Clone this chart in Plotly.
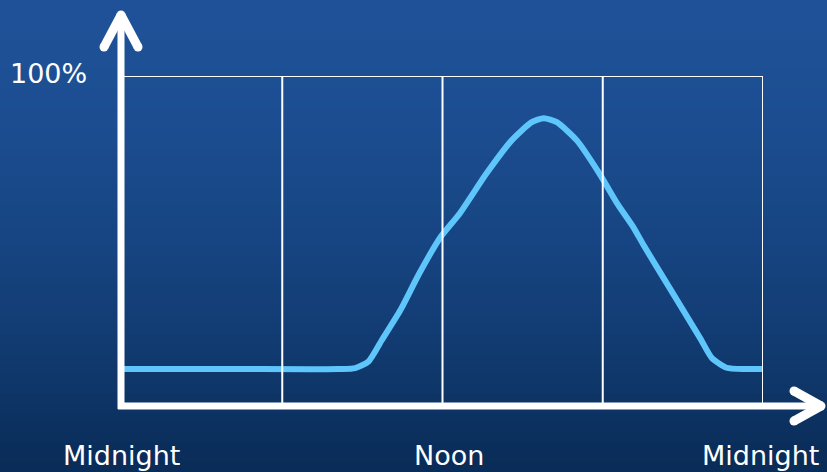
import plotly.graph_objects as go

# ---- data (hours since midnight, percent of maximum) ----
hours = [0, 4.16, 8.14, 8.73, 9.23, 9.73, 10.42, 11.12, 11.91, 12.66, 13.65, 14.59, 15.34, 15.79,
         16.28, 17.03, 17.87, 18.57, 19.16, 19.51, 20.41, 21.65, 22.09, 22.64, 23.34, 24]
usage = [11.2, 11.2, 11.2, 11.5, 13.5, 20.0, 29.0, 40.0, 51.0, 58.5, 70.5, 80.5, 86.0, 87.2,
         86.0, 80.5, 70.5, 61.0, 54.0, 49.0, 37.0, 20.5, 14.5, 11.6, 11.2, 11.2]
grid_hours = [6, 12, 18, 24]
top_value = [100]
label_hours = [0, 12, 24]
label_text = ["Midnight", "Noon", "Midnight"]
y_label = "100%"

W, H = 827, 472
L, R, T, B = 122, 763, 76, 406  # plot area in pixels
label_xshift = [-1, 6, -3]


def px(x):
    return (x - L) / (R - L)


def py(y):
    return (B - y) / (B - T)


fig = go.Figure()
fig.add_trace(go.Scatter(
    x=hours, y=usage, mode="lines",
    line=dict(color="#5ec6fb", width=6, shape="spline", smoothing=0.6),
    hoverinfo="skip", showlegend=False,
))

shapes = []
# background vertical gradient
top_rgb = (0x1e, 0x51, 0x97)
bot_rgb = (0x09, 0x2c, 0x58)
n = 48
for i in range(n):
    t = i / (n - 1)
    t2 = t ** 1.6
    c = tuple(int(round(a + (b - a) * t2)) for a, b in zip(top_rgb, bot_rgb))
    y0 = i * H / n
    y1 = (i + 1) * H / n + 1
    shapes.append(dict(type="rect", xref="paper", yref="paper", layer="below",
                       x0=px(-2), x1=px(W + 2), y0=py(y1), y1=py(y0),
                       line=dict(width=0), fillcolor="rgb(%d,%d,%d)" % c))

# grid box lines
for g in grid_hours:
    shapes.append(dict(type="line", xref="x", yref="y", x0=g, x1=g, y0=0, y1=top_value[0],
                       line=dict(color="white", width=2)))
shapes.append(dict(type="line", xref="x", yref="y", x0=0, x1=grid_hours[-1],
                   y0=top_value[0], y1=top_value[0], line=dict(color="white", width=2)))

# axes with chevron arrowheads
shapes.append(dict(type="line", xref="paper", yref="paper", x0=px(121), x1=px(121),
                   y0=py(409), y1=py(16), line=dict(color="white", width=7)))
shapes.append(dict(type="line", xref="paper", yref="paper", x0=px(118), x1=px(818),
                   y0=py(406), y1=py(406), line=dict(color="white", width=7)))


def chevron(pts, w=9):
    out = []
    for (xa, ya), (xb, yb) in zip(pts[:-1], pts[1:]):
        out.append(dict(type="line", xref="paper", yref="paper", x0=px(xa), y0=py(ya),
                        x1=px(xb), y1=py(yb), line=dict(color="white", width=w)))
    r = w / 2
    for (xa, ya) in pts:
        out.append(dict(type="circle", xref="paper", yref="paper", x0=px(xa - r), x1=px(xa + r),
                        y0=py(ya + r), y1=py(ya - r), fillcolor="white", line=dict(width=0)))
    return out


shapes += chevron([(104, 47), (121, 15), (138, 47)])
shapes += chevron([(794, 391), (821, 406), (794, 421)])

annotations = []
for h, t, s in zip(label_hours, label_text, label_xshift):
    annotations.append(dict(x=h, y=py(455), xref="x", yref="paper", text=t, showarrow=False,
                            xanchor="center", yanchor="middle", xshift=s,
                            font=dict(family="DejaVu Sans", size=27, color="white")))
annotations.append(dict(x=px(48), y=py(73), xref="paper", yref="paper", text=y_label,
                        showarrow=False, xanchor="center", yanchor="middle",
                        font=dict(family="DejaVu Sans", size=27, color="white")))

fig.update_layout(
    width=W, height=H,
    margin=dict(l=L, r=W - R, t=T, b=H - B, pad=0),
    paper_bgcolor="#163f7a", plot_bgcolor="rgba(0,0,0,0)",
    xaxis=dict(range=[0, 24], visible=False, fixedrange=True),
    yaxis=dict(range=[0, 100], visible=False, fixedrange=True),
    shapes=shapes, annotations=annotations,
)

fig.write_html("out.html", config={"displayModeBar": False},
               post_script="document.body.style.margin='0';document.body.style.overflow='hidden';")
